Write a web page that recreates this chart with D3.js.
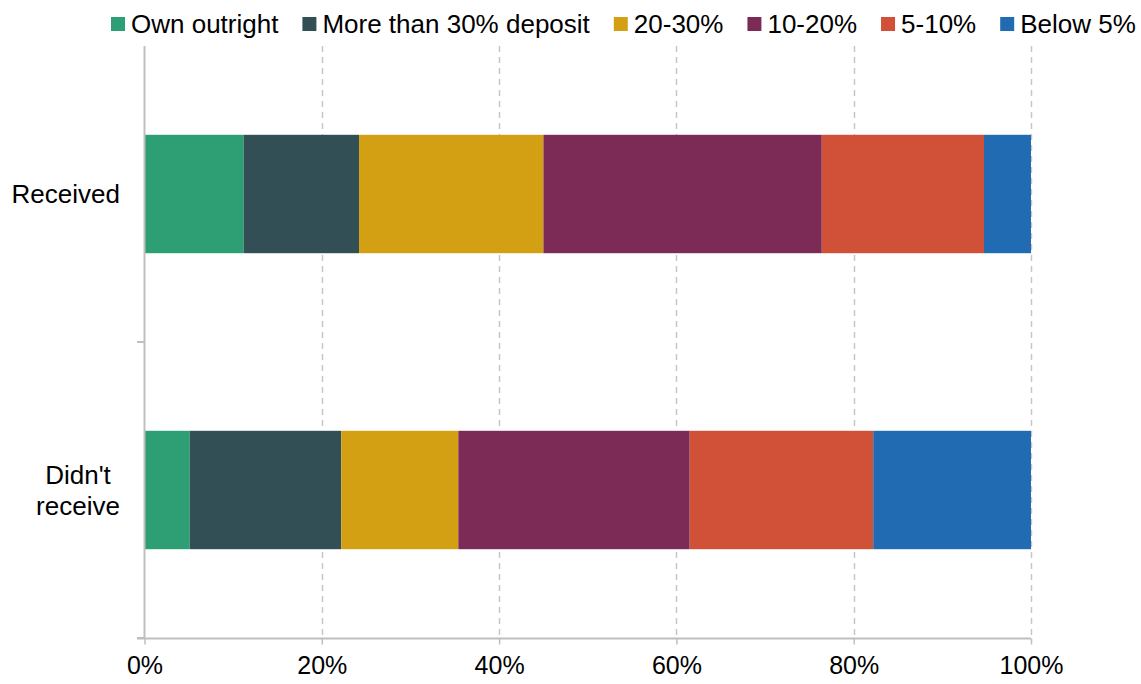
<!DOCTYPE html>
<html>
<head>
<meta charset="utf-8">
<script src="https://cdn.jsdelivr.net/npm/d3@7"></script>
<style>
  body { margin: 0; background: #fff; }
  text { font-family: "Liberation Sans", Arial, sans-serif; fill: #000; }
</style>
</head>
<body>
<svg id="chart" width="1141" height="684"></svg>
<script>
// data
var categories = ["Received", "Didn't receive"]
var seriesNames = ["Own outright", "More than 30% deposit", "20-30%", "10-20%", "5-10%", "Below 5%"]
var seriesColors = ["#2e9e74", "#334f56", "#d4a013", "#7c2b57", "#d05138", "#206bb1"]
var received = [11.2, 13.0, 20.8, 31.4, 18.3, 5.3]
var didntReceive = [5.1, 17.1, 13.2, 26.1, 20.7, 17.8]
var xTicks = [0, 20, 40, 60, 80, 100]

var rows = [received, didntReceive].map(function (vals, i) {
  var row = { cat: categories[i] }
  seriesNames.forEach(function (s, j) { row[s] = vals[j] })
  return row
})

var svg = d3.select("#chart")

var x = d3.scaleLinear().domain([0, 100]).range([144.5, 1031])
var y = d3.scaleBand().domain(categories).range([46, 638]).paddingInner(0.6).paddingOuter(0.3)

var layers = d3.stack().keys(seriesNames)(rows)

//dashed gridlines
svg.append("g")
  .selectAll("line")
  .data(xTicks.slice(1))
  .enter().append("line")
  .attr("x1", function (d) { return Math.round(x(d)) + 0.5 })
  .attr("x2", function (d) { return Math.round(x(d)) + 0.5 })
  .attr("y1", 46)
  .attr("y2", 638)
  .attr("stroke", "#c6c6c6")
  .attr("stroke-width", 1.5)
  .attr("stroke-dasharray", "6,5")

//bars
svg.append("g")
  .selectAll("g")
  .data(layers)
  .enter().append("g")
  .attr("fill", function (d, i) { return seriesColors[i] })
  .selectAll("rect")
  .data(function (d) { return d })
  .enter().append("rect")
  .attr("x", function (d) { return x(d[0]) })
  .attr("width", function (d) { return x(d[1]) - x(d[0]) })
  .attr("y", function (d) { return y(d.data.cat) })
  .attr("height", y.bandwidth())

//x axis
var xAxis = svg.append("g")
  .attr("transform", "translate(0,638.5)")
  .call(d3.axisBottom(x).tickValues(xTicks).tickSize(6).tickPadding(12)
    .tickFormat(function (d) { return d + "%" }))
xAxis.select(".domain").attr("stroke", "#bfbfbf").attr("stroke-width", 2)
  .attr("d", "M137,0H1031")
xAxis.selectAll(".tick line").attr("stroke", "#bfbfbf").attr("stroke-width", 1.5)
xAxis.selectAll(".tick text").attr("font-size", 25).attr("font-family", "Liberation Sans, Arial, sans-serif")

//y axis: line with ticks at band boundaries
var yAxis = svg.append("g")
var bounds = [46, (y(categories[0]) + y(categories[1]) + y.bandwidth()) / 2, 638]
yAxis.append("line")
  .attr("x1", 144.5).attr("x2", 144.5).attr("y1", 46).attr("y2", 638)
  .attr("stroke", "#bfbfbf").attr("stroke-width", 2)
yAxis.selectAll("line.tick")
  .data(bounds.slice(1))
  .enter().append("line")
  .attr("class", "tick")
  .attr("x1", 137).attr("x2", 144.5)
  .attr("y1", function (d) { return d }).attr("y2", function (d) { return d })
  .attr("stroke", "#bfbfbf").attr("stroke-width", 2)

//category labels
var labelLines = { "Received": ["Received"], "Didn't receive": ["Didn't", "receive"] }
categories.forEach(function (c) {
  var lines = labelLines[c]
  var cy = y(c) + y.bandwidth() / 2
  var t = svg.append("text")
    .attr("font-size", 26)
    .attr("text-anchor", lines.length > 1 ? "middle" : "end")
  lines.forEach(function (l, i) {
    t.append("tspan")
      .attr("x", lines.length > 1 ? 78 : 120)
      .attr("y", cy + 9 + (i - (lines.length - 1) / 2) * 31)
      .text(l)
  })
})

//legend
var legend = svg.append("g")
var lx = 111
seriesNames.forEach(function (s, i) {
  legend.append("rect")
    .attr("x", lx).attr("y", 17).attr("width", 14).attr("height", 14)
    .attr("fill", seriesColors[i])
  var t = legend.append("text")
    .attr("x", lx + 20).attr("y", 33)
    .attr("font-size", 26)
    .text(s)
  lx += 20 + t.node().getComputedTextLength() + 24
})
</script>
</body>
</html>
